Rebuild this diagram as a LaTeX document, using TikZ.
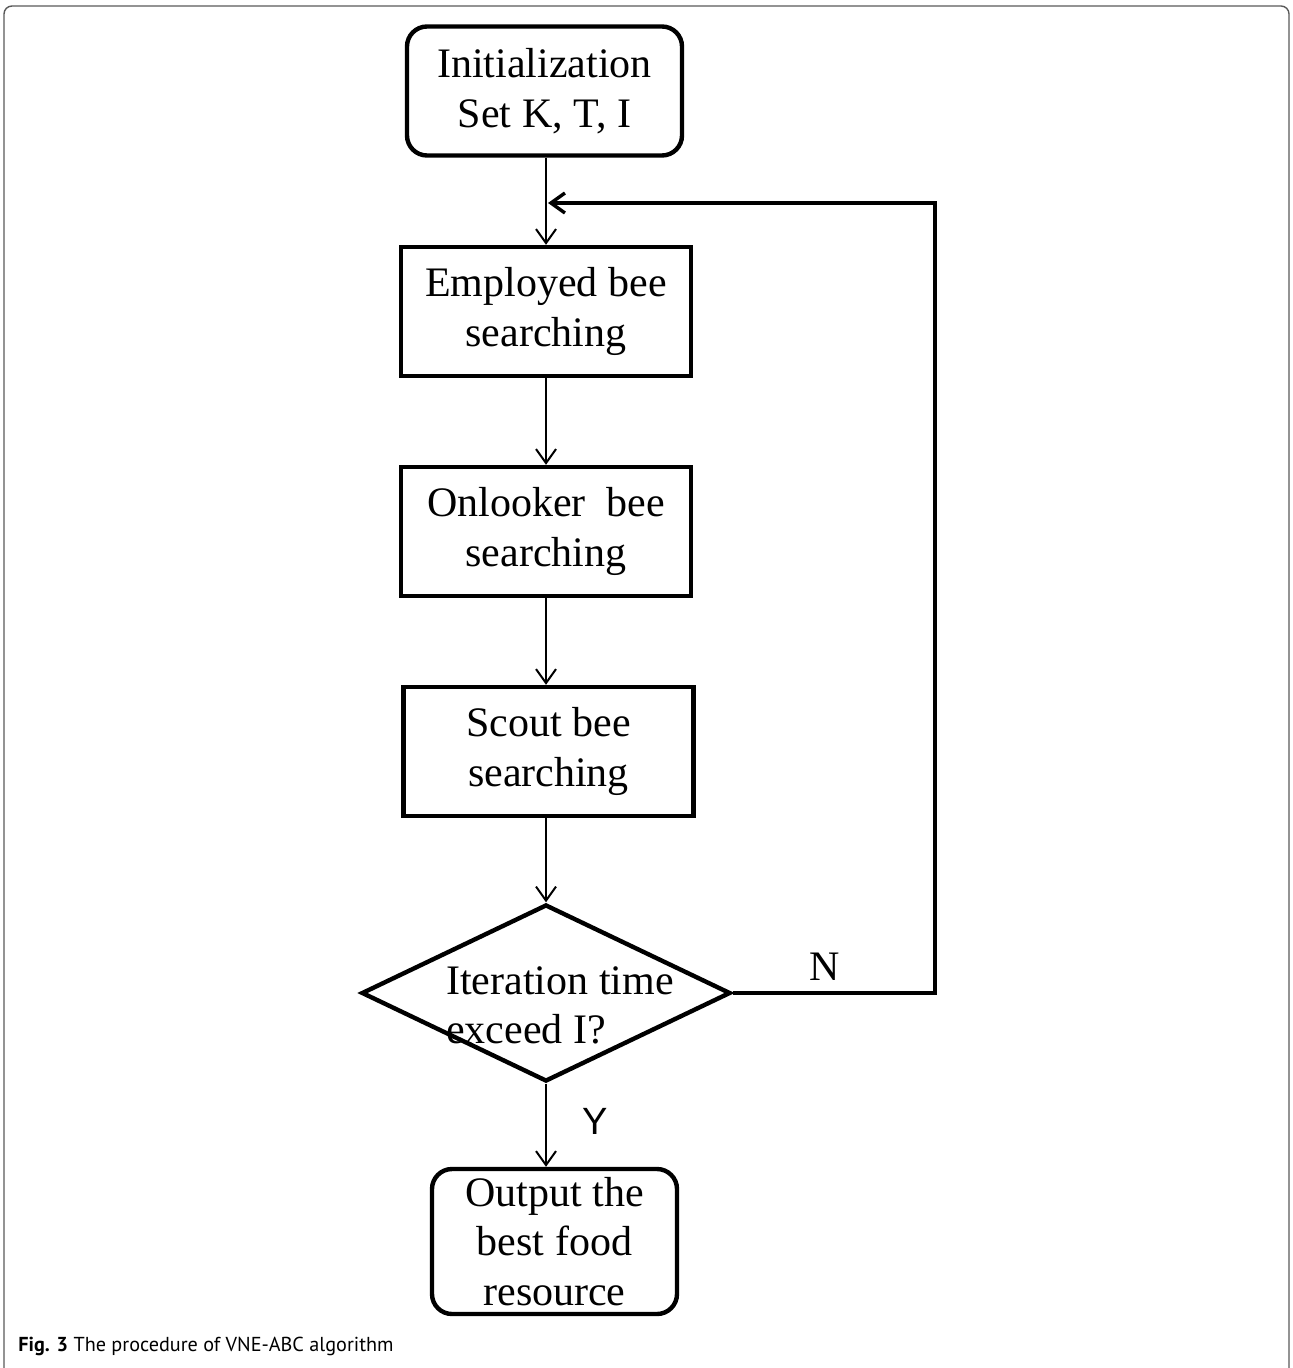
\documentclass[tikz,border=0pt]{standalone}
\usepackage{fontspec}
\setmainfont{Liberation Serif}
\newfontfamily\capfont{PT Sans}
\newfontfamily\labfont{Liberation Sans}
\usetikzlibrary{shapes.geometric, arrows.meta, positioning}
\tikzset{
  procbox/.style={rectangle, draw=black, line width=2.2pt,
    minimum width=145pt, minimum height=64.5pt, inner sep=0pt,
    align=center, font=\fontsize{21}{25}\selectfont},
  termbox/.style={procbox, rounded corners=10pt},
  decision/.style={diamond, draw=black, line width=2.2pt,
    minimum width=184.5pt, minimum height=88.5pt, inner sep=0pt},
  flow/.style={-{Straight Barb[length=7pt,width=10pt]}, line width=1pt},
}

\begin{document}
\begin{tikzpicture}[x=0.5pt, y=-0.5pt]
  \useasboundingbox (0,0) rectangle (1292,1368);
  % frame of the figure
  \draw[gray!70!black, line width=0.7pt, rounded corners=4pt]
    (4,1372) |- (1289,6) -- (1289,1372);

  % flow chart
  \node[termbox, minimum width=137.5pt] (init) at (544.5,91) {Initialization\\Set K, T, I};
  \node[procbox] (employ) at (546,311.5) {Employed bee\\searching};
  \node[procbox] (onlook) at (546,531.5) {Onlooker\ \ bee\\searching};
  \node[procbox] (scout) at (548.5,751.5) {Scout bee\\searching};
  \node[decision] (check) at (546,993) {};
  \node[font=\fontsize{21}{24.5}\selectfont, align=left, inner sep=0pt] (checktxt)
    at (560,1005) {Iteration time\\exceed I?};
  \node[termbox, minimum width=122.5pt, minimum height=72.5pt,
    font=\fontsize{21}{24.8}\selectfont] (output) at (554.5,1241.5)
    {Output the\\best food\\resource};

  \draw[flow] (init.south -| employ) -- (employ.north);
  \draw[flow] (employ.south) -- (onlook.north);
  \draw[flow] (onlook.south) -- (onlook.south |- scout.north);
  \draw[flow] (onlook.south |- scout.south) -- (check.north);
  \draw[flow] (check.south) -- (check.south |- output.north);

  % loop back
  \coordinate (corner) at (935,203);
  \coordinate (join) at (548,203);
  \draw[flow, line width=1.7pt] (check.east) -| (corner) -- (join);

  \node[font=\fontsize{21}{24}\selectfont] (no) at (825,967) {N};
  \node[font=\labfont\fontsize{19}{22}\selectfont] (yes) at (595,1121) {Y};

  % caption
  \node[anchor=base west, inner sep=0pt, font=\capfont\fontsize{10.1}{12}\selectfont] (cap)
    at (18,1351) {\textbf{Fig. 3} The procedure of VNE-ABC algorithm};
\end{tikzpicture}
\end{document}
